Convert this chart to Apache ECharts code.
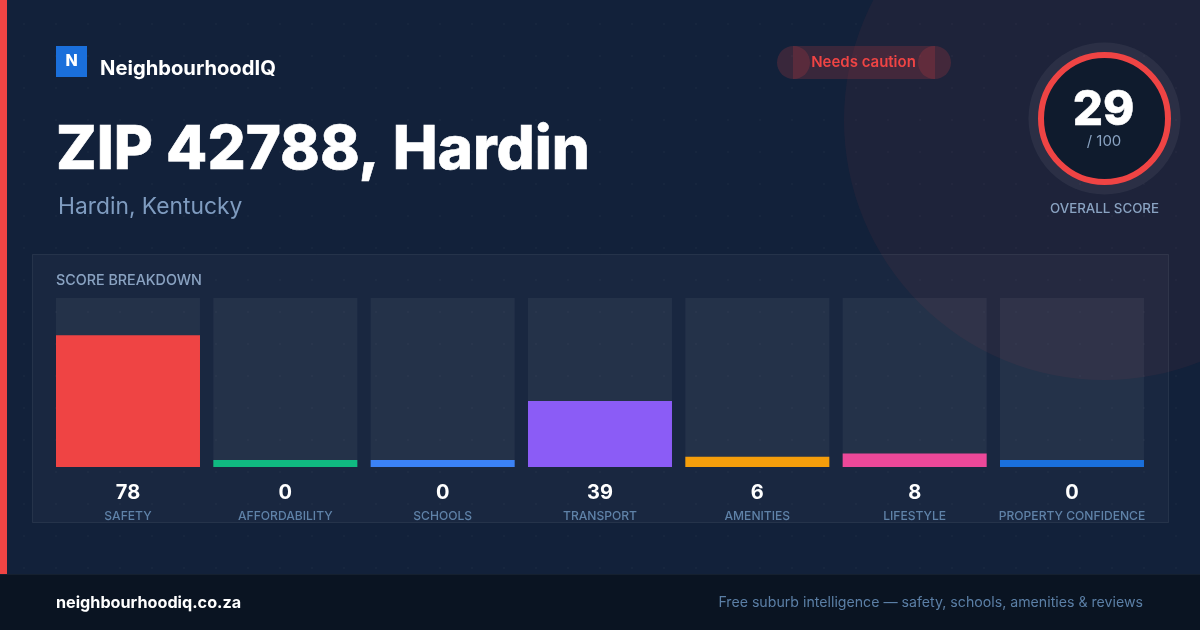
<!DOCTYPE html>
<html><head><meta charset="utf-8">
<style>html,body{margin:0;padding:0;background:#12213a}#c{width:1200px;height:630px}</style>
<script src="https://cdn.jsdelivr.net/npm/echarts@6/dist/echarts.min.js"></script>
</head><body><div id="c"></div>
<script>
const categories = ['SAFETY','AFFORDABILITY','SCHOOLS','TRANSPORT','AMENITIES','LIFESTYLE','PROPERTY CONFIDENCE'];
const scores = [78,0,0,39,6,8,0];
const barColors = ['#ef4444','#10b981','#3b82f6','#8b5cf6','#f59e0b','#ec4899','#1a6fdb'];
const overall = 29;
const F = 'Inter';
const chart = echarts.init(document.getElementById('c'),null,{renderer:'canvas',width:1200,height:630});

const g = [];
for(let y=24;y<574;y+=32){for(let x=24;x<1200;x+=32){
  g.push({type:'circle',silent:true,z:-10,shape:{cx:x,cy:y,r:1},style:{fill:'rgba(255,255,255,0.03)'}});
}}
g.push({type:'circle',silent:true,z:-9,shape:{cx:1104,cy:120,r:260},style:{fill:'rgba(239,68,68,0.06)'}});
g.push({type:'rect',silent:true,z:-8,shape:{x:0,y:0,width:7,height:574},style:{fill:'#ef4444'}});
g.push({type:'rect',silent:true,z:-8,shape:{x:0,y:574,width:1200,height:56},style:{fill:'#0a1422'}});
g.push({type:'rect',silent:true,z:-8,shape:{x:0,y:574,width:1200,height:1},style:{fill:'#15202f'}});
g.push({type:'rect',silent:true,z:-7,shape:{x:32.5,y:254.5,width:1136,height:268},style:{fill:'rgba(255,255,255,0.03)',stroke:'rgba(255,255,255,0.07)',lineWidth:1}});
g.push({type:'rect',silent:true,shape:{x:56,y:46,width:31,height:31},style:{fill:'#1a6fdb'}});
const txt=(x,y,t,size,weight,fill,align,extra)=>g.push({type:'text',silent:true,x,y,style:Object.assign({text:t,font:`${weight} ${size}px ${F}`,fill,align:align||'left',verticalAlign:'middle'},extra||{})});
txt(71.5,61.5,'N',16,800,'#ffffff','center');
txt(100,69,'NeighbourhoodIQ',20.2,700,'#ffffff');
txt(56,151,'ZIP 42788, Hardin',60,800,'#ffffff','left',{stroke:'#ffffff',lineWidth:0.6});
txt(58,207,'Hardin, Kentucky',22.8,400,'#7f9cc0');
const pill='rgba(239,68,68,0.18)';
g.push({type:'circle',silent:true,shape:{cx:793.5,cy:62.5,r:16.5},style:{fill:pill}});
g.push({type:'circle',silent:true,shape:{cx:934.5,cy:62.5,r:16.5},style:{fill:pill}});
g.push({type:'rect',silent:true,shape:{x:793,y:46,width:142,height:33},style:{fill:pill}});
txt(863.5,62.5,'Needs caution',15,600,'#ef4444','center');
g.push({type:'circle',silent:true,shape:{cx:1104.5,cy:118.5,r:76},style:{fill:'rgba(255,255,255,0.06)'}});
g.push({type:'circle',silent:true,shape:{cx:1104.5,cy:118.5,r:63.5},style:{fill:'#0f1b2d',stroke:'#ef4444',lineWidth:6}});
txt(1103.5,111,String(overall),47.5,800,'#ffffff','center',{stroke:'#ffffff',lineWidth:0.5});
txt(1104,141.5,'/ 100',15,400,'#8aa3c2','center');
txt(1104.5,208.5,'OVERALL SCORE',13.3,500,'#8aa3c2','center');
txt(56,281,'SCORE BREAKDOWN',14.3,500,'#8aa3c2');
txt(56,603,'neighbourhoodiq.co.za',16.2,700,'#ffffff');
txt(1143,602.5,'Free suburb intelligence \u2014 safety, schools, amenities & reviews',14.17,400,'#5b7fa6','right');

chart.setOption({
  backgroundColor:'#12213a',
  animation:false,
  graphic:{elements:g},
  grid:{left:49.33,width:1101.33,top:298,height:169},
  xAxis:{type:'category',data:categories,axisLine:{show:false},axisTick:{show:false},
    axisLabel:{interval:0,margin:13,
      formatter:(v,i)=>`{v|${scores[i]}}\n{n|${v}}`,
      rich:{v:{fontFamily:F,fontWeight:700,fontSize:20,color:'#ffffff',lineHeight:25,align:'center'},
            n:{fontFamily:F,fontWeight:500,fontSize:12.1,color:'#5f82a8',lineHeight:22,align:'center'}}}},
  yAxis:{type:'value',min:0,max:100,show:false,splitLine:{show:false}},
  series:[{type:'bar',z:5,barWidth:144,barMinHeight:7,showBackground:true,
    backgroundStyle:{color:'rgba(255,255,255,0.05)'},
    data:scores.map((v,i)=>({value:v,itemStyle:{color:barColors[i]}}))}]
});
</script></body></html>
